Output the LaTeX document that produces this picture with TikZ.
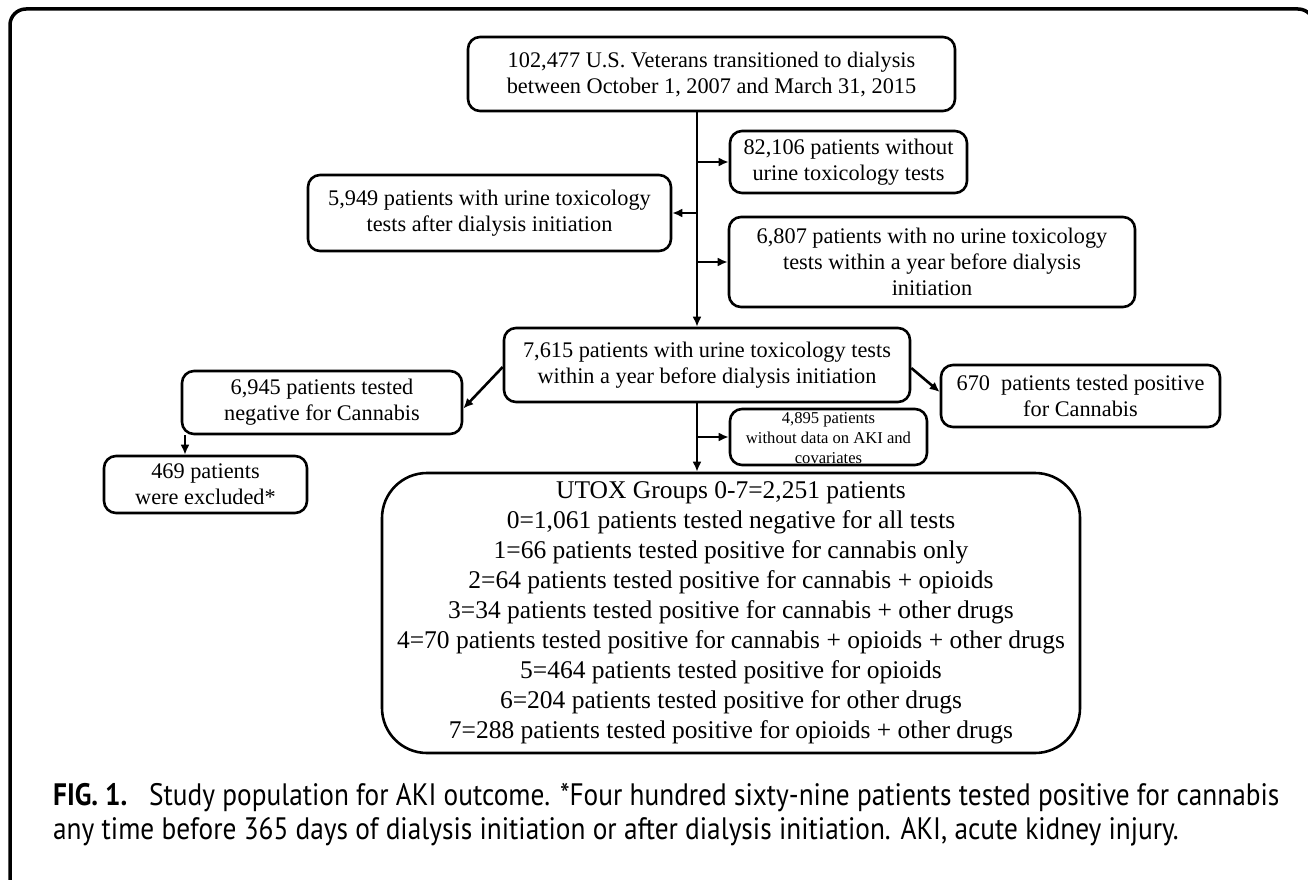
\documentclass[tikz,border=0pt]{standalone}
\usepackage{fontspec}
\setmainfont{Liberation Serif}
\newfontfamily\capfont{PT Sans}
\usetikzlibrary{arrows.meta,calc}
\newcommand\fmain{\fontsize{22.3}{26}\selectfont}
\newcommand\futox{\fontsize{25.5}{30}\selectfont}
\newcommand\fsml{\fontsize{16.6}{20}\selectfont}
\newcommand\fcap{\capfont\fontsize{31}{34}\selectfont}
\newcommand\capsq[1]{\scalebox{0.881}[1]{#1}}
\begin{document}
\begin{tikzpicture}[x=1pt,y=-1pt,
  box/.style={draw, line width=2.6pt, rounded corners=12pt, inner sep=0pt, align=center, font=\fmain},
  conn/.style={line width=2.6pt, -{Latex[length=10pt,width=9pt]}},
  frame/.style={line width=3.5pt, rounded corners=16pt},
  captext/.style={anchor=base west, inner sep=0pt, font=\fcap}
  ]
\useasboundingbox (0,0) rectangle (1308,880);
\draw[frame] (10,9) rectangle (1314,894);

\node[box, minimum width=487, minimum height=74] (top) at (711.5,74)
  {102,477 U.S. Veterans transitioned to dialysis\\between October 1, 2007 and March 31, 2015};
\node[box, minimum width=237, minimum height=62] (b82106) at (848.5,162)
  {82,106 patients without\\urine toxicology tests};
\node[box, minimum width=363, minimum height=76] (b5949) at (489.5,213)
  {5,949 patients with urine toxicology\\tests after dialysis initiation};
\node[box, minimum width=406, minimum height=90] (b6807) at (932,262)
  {6,807 patients with no urine toxicology\\tests within a year before dialysis\\initiation};
\node[box, minimum width=406, minimum height=74] (b7615) at (707,365)
  {7,615 patients with urine toxicology tests\\within a year before dialysis initiation};
\node[box, minimum width=279, minimum height=62] (b670) at (1080.5,396)
  {670~~patients tested positive\\for Cannabis};
\node[box, minimum width=280, minimum height=63] (b6945) at (322,402.5)
  {6,945 patients tested\\negative for Cannabis};
\node[box, minimum width=203, minimum height=57] (b469) at (205.5,484.5)
  {469 patients\\were excluded*};
\node[box, minimum width=197, minimum height=56] (b4895) at (828.5,437) {};
\node[align=center, inner sep=0pt, font=\fsml] (t4895) at (828.5,438)
  {4,895 patients\\without data on AKI and\\covariates};
\node[box, rounded corners=45pt, minimum width=698, minimum height=280, font=\futox] (utox) at (731,613)
  {UTOX Groups 0-7=2,251 patients\\
   0=1,061 patients tested negative for all tests\\
   1=66 patients tested positive for cannabis only\\
   2=64 patients tested positive for cannabis + opioids\\
   3=34 patients tested positive for cannabis + other drugs\\
   4=70 patients tested positive for cannabis + opioids + other drugs\\
   5=464 patients tested positive for opioids\\
   6=204 patients tested positive for other drugs\\
   7=288 patients tested positive for opioids + other drugs};

\coordinate (tx) at (697,0);
\coordinate (dx) at (185,0);
\draw[conn] (top.south -| tx) -- (b7615.north -| tx);
\draw[conn] (tx |- b82106.west) -- (b82106.west);
\draw[conn] (tx |- b5949.east) -- (b5949.east);
\draw[conn] (tx |- b6807.west) -- (b6807.west);
\draw[conn] (b7615.south -| tx) -- (utox.north -| tx);
\draw[conn] (tx |- b4895.west) -- (b4895.west);
\draw[conn] ([yshift=-2pt]b7615.west) -- ([yshift=-6pt]b6945.east);
\draw[conn] ([yshift=-3pt]b7615.east) -- ([yshift=4pt]b670.west);
\draw[conn] (b6945.south -| dx) -- (b469.north -| dx);

\node[captext] (cap1) at (53,805)
  {\capsq{\textbf{FIG. 1.}\hspace{0.8em}Study population for AKI outcome. *Four hundred sixty-nine patients tested positive for cannabis}};
\node[captext] (cap2) at (53,839)
  {\capsq{any time before 365 days of dialysis initiation or after dialysis initiation. AKI, acute kidney injury.}};
\end{tikzpicture}
\end{document}
